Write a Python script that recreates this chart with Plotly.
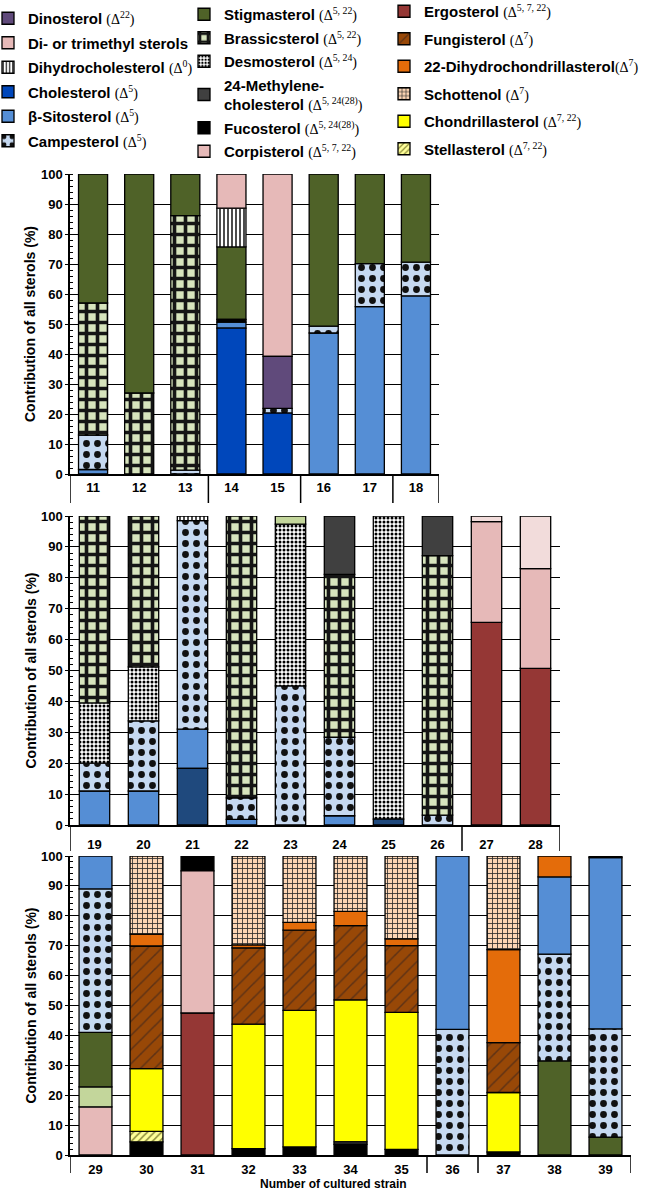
import plotly.graph_objects as go

# strains shown in each panel, the separated groups on the x axis (number of strains),
# and the stacked sterol shares of every strain, listed bottom -> top (% of all sterols)
strains_a = ["11", "12", "13", "14", "15", "16", "17", "18"]
groups_a = [3, 2, 2, 1]
stacks_a = [
    [("sito", 1.5), ("camp", 11.5), ("bras", 44), ("stig", 43)],
    [("bras", 27), ("stig", 73)],
    [("camp", 1.3), ("bras", 84.8), ("stig", 13.9)],
    [("chol", 48.6), ("sito", 2), ("fuco", 0.9), ("stig", 24.2), ("dihy", 12.9), ("ditri", 11.4)],
    [("chol", 20.3), ("camp", 1.6), ("dino", 17.3), ("ditri", 60.8)],
    [("sito", 47), ("camp", 2.3), ("stig", 50.7)],
    [("sito", 55.8), ("camp", 14.3), ("stig", 29.9)],
    [("sito", 59.4), ("camp", 11.2), ("stig", 29.4)],
]

strains_b = ["19", "20", "21", "22", "23", "24", "25", "26", "27", "28"]
groups_b = [8, 2]
stacks_b = [
    [("sito", 11), ("camp", 9), ("desm", 19.5), ("bras", 60.5)],
    [("sito", 11), ("camp", 22.7), ("desm", 17.5), ("bras", 48.8)],
    [("chol_dark", 18.3), ("sito", 12.7), ("camp", 67.5), ("dihy", 1.5)],
    [("sito", 1.8), ("camp", 7), ("bras", 91.2)],
    [("camp", 45), ("desm", 52.4), ("bras_plain", 2.6)],
    [("sito", 3), ("camp", 25.4), ("bras", 52.7), ("meth", 18.9)],
    [("chol_dark", 1.9), ("desm", 98.1)],
    [("camp", 3.2), ("bras", 84), ("meth", 12.8)],
    [("ergo", 65.6), ("corp", 32.6), ("ditri_light", 1.8)],
    [("ergo", 50.7), ("corp", 32.3), ("ditri_light", 17)],
]

strains_c = ["29", "30", "31", "32", "33", "34", "35", "36", "37", "38", "39"]
groups_c = [7, 1, 3]
stacks_c = [
    [("ditri", 16.1), ("bras_plain", 6.7), ("stig", 18.2), ("camp", 48), ("sito", 11)],
    [("fuco", 4.4), ("stel", 3.5), ("chon", 21), ("fung", 41), ("dhc", 4), ("scho", 26.1)],
    [("ergo", 47.5), ("corp", 47.5), ("fuco", 5)],
    [("fuco", 2.1), ("chon", 41.7), ("fung", 25.5), ("dhc", 1), ("scho", 29.7)],
    [("fuco", 2.7), ("chon", 45.7), ("fung", 26.8), ("dhc", 2.6), ("scho", 22.2)],
    [("fuco", 3.6), ("meth", 0.8), ("chon", 47.5), ("fung", 24.8), ("dhc", 4.8), ("scho", 18.5)],
    [("fuco", 1.9), ("chon", 45.8), ("fung", 22.3), ("dhc", 2.3), ("scho", 27.7)],
    [("camp", 42), ("sito", 58)],
    [("fuco", 1), ("chon", 19.9), ("fung", 16.7), ("dhc", 31.1), ("scho", 31.3)],
    [("stig", 31.5), ("camp", 35.7), ("sito", 25.8), ("dhc", 7)],
    [("stig", 6), ("camp", 36.2), ("sito", 57.3), ("dhc", 0.5)],
]

# legend texts (name, delta superscript)
names = {
    "dino": ("Dinosterol", "22"), "ditri": ("Di- or trimethyl sterols", None),
    "dihy": ("Dihydrocholesterol", "0"), "chol": ("Cholesterol", "5"),
    "sito": ("β-Sitosterol", "5"), "camp": ("Campesterol", "5"),
    "stig": ("Stigmasterol", "5, 22"), "bras": ("Brassicsterol", "5, 22"),
    "desm": ("Desmosterol", "5, 24"), "meth": ("24-Methylene-|cholesterol", "5, 24(28)"),
    "fuco": ("Fucosterol", "5, 24(28)"), "corp": ("Corpisterol", "5, 7, 22"),
    "ergo": ("Ergosterol", "5, 7, 22"), "fung": ("Fungisterol", "7"),
    "dhc": ("22-Dihydrochondrillasterol", "7"), "scho": ("Schottenol", "7"),
    "chon": ("Chondrillasterol", "7, 22"), "stel": ("Stellasterol", "7, 22"),
}
legend_cols = [
    ["dino", "ditri", "dihy", "chol", "sito", "camp"],
    ["stig", "bras", "desm", "meth", "fuco", "corp"],
    ["ergo", "fung", "dhc", "scho", "chon", "stel"],
]

# fill styles
STYLE = {
    "dino": dict(color="#604a7b"),
    "ditri": dict(color="#e6b9b8"),
    "ditri_light": dict(color="#f2dcdb", parent="ditri"),
    "dihy": dict(color="white", shape="|", fg="black", size=4, sol=0.35),
    "chol": dict(color="#0047bb"),
    "chol_dark": dict(color="#1f497d", parent="chol"),
    "sito": dict(color="#558ed5"),
    "camp": dict(color="#c6d9f1", shape=".", fg="#111111", size=11, sol=0.3),
    "stig": dict(color="#4f6228"),
    "bras": dict(color="#d7e4bd", shape="+", fg="#151515", size=11, sol=0.55),
    "bras_plain": dict(color="#c3d69b", parent="bras"),
    "desm": dict(color="white", shape=".", fg="black", size=4, sol=0.45),
    "meth": dict(color="#404040"),
    "fuco": dict(color="#000000"),
    "corp": dict(color="#e6b9b8"),
    "ergo": dict(color="#953735"),
    "fung": dict(color="#984807", shape="/", fg="#5e3215", size=10, sol=0.15),
    "dhc": dict(color="#e46c0a"),
    "scho": dict(color="#fcd5b4", shape="+", fg="#2b2b2b", size=5, sol=0.3),
    "chon": dict(color="#ffff00"),
    "stel": dict(color="#ffff99", shape="/", fg="#8c8c3a", size=5, sol=0.3),
}

FONT = "Liberation Sans, Arial, sans-serif"
W, H = 647, 1191


def legend_name(key):
    label, delta = names[key]
    parts = label.split("|")
    txt = "<br>".join("<b>%s</b>" % p for p in parts)
    if delta:
        gap = "" if key == "dhc" else " "
        txt += (gap + "<span style='font-family:Liberation Serif;font-size:14px'>"
                "(Δ<sup>%s</sup>)</span>" % delta)
    return txt


legend_of = {}
for c, col in enumerate(legend_cols):
    for r, k in enumerate(col):
        legend_of[k] = ("legend" if c == 0 else "legend%d" % (c + 1), r)

panels = [
    dict(strains=strains_a, groups=groups_a, stacks=stacks_a, x0=70, x1=439, top=174, bot=474,
         width=0.63, depth=29, standoff=1),
    dict(strains=strains_b, groups=groups_b, stacks=stacks_b, x0=70, x1=560, top=516, bot=825,
         width=0.62, depth=26, standoff=7),
    dict(strains=strains_c, groups=groups_c, stacks=stacks_c, x0=70, x1=631, top=856, bot=1155,
         width=0.645, depth=18, standoff=2),
]

fig = go.Figure()
shown = set()
layout_axes = {}
shapes = []
annotations = []

for p, pan in enumerate(panels):
    sfx = "" if p == 0 else str(p + 1)
    keys = []
    for stack in pan["stacks"]:
        for k, v in stack:
            if k not in keys:
                keys.append(k)
    for k in keys:
        heights, bases = [], []
        for stack in pan["stacks"]:
            b, h, base = 0, None, None
            for kk, v in stack:
                if kk == k:
                    h, base = v, b
                b += v
            heights.append(h)
            bases.append(base)
        st = STYLE[k]
        parent = st.get("parent", k)
        show = (parent == k) and (k not in shown)
        shown.add(k)
        pattern = dict(shape="")
        if "shape" in st:
            pattern = dict(shape=st["shape"], fgcolor=st["fg"], bgcolor=st["color"],
                           size=st["size"], solidity=st["sol"], fillmode="replace")
        leg, rank = legend_of[parent]
        fig.add_trace(go.Bar(
            x=pan["strains"], y=heights, base=bases,
            xaxis="x" + sfx, yaxis="y" + sfx,
            width=pan["width"],
            marker=dict(color=st["color"], pattern=pattern,
                        line=dict(color="black", width=1.3)),
            name=legend_name(parent), legendgroup=parent, showlegend=show,
            legend=leg, legendrank=rank,
            cliponaxis=False, hoverinfo="x+y+name",
        ))

    n = len(pan["strains"])
    layout_axes["xaxis" + sfx] = dict(
        domain=[pan["x0"] / W, pan["x1"] / W], anchor="y" + sfx,
        type="category", range=[-0.5, n - 0.5], showgrid=False,
        showline=True, linecolor="black", linewidth=1.5, ticks="",
        tickfont=dict(family=FONT, size=13, color="black", weight="bold"),
        ticklabelstandoff=pan["standoff"], fixedrange=True,
    )
    layout_axes["yaxis" + sfx] = dict(
        domain=[1 - pan["bot"] / H, 1 - pan["top"] / H], anchor="x" + sfx,
        range=[0, 100], dtick=10, showgrid=True, gridcolor="black", gridwidth=1.3,
        zeroline=False, showline=True, linecolor="black", linewidth=1.5,
        ticks="outside", ticklen=3, tickcolor="black",
        minor=dict(dtick=2, ticks="inside", ticklen=3, tickcolor="black", showgrid=False),
        tickfont=dict(family=FONT, size=13, color="black", weight="bold"),
        fixedrange=True,
    )

    # separators below the axis between strain groups
    pos = -0.5
    bounds = [pos]
    for g in pan["groups"]:
        pos += g
        bounds.append(pos)
    depth = pan["depth"] / (pan["bot"] - pan["top"])
    for bx in bounds:
        shapes.append(dict(type="line", xref="x" + sfx, yref="y" + sfx + " domain",
                           x0=bx, x1=bx, y0=0, y1=-depth,
                           line=dict(color="black", width=1.5)))

    annotations.append(dict(
        text="<b>Contribution of all sterols (%)</b>", textangle=-90,
        xref="paper", yref="paper", x=30 / W,
        y=1 - (pan["top"] + pan["bot"]) / 2 / H,
        showarrow=False, xanchor="center", yanchor="middle",
        font=dict(family=FONT, size=14, color="black"),
    ))

annotations.append(dict(
    text="<b>Number of cultured strain</b>", xref="paper", yref="paper",
    x=333 / W, y=1 - 1184 / H, showarrow=False, xanchor="center", yanchor="middle",
    font=dict(family=FONT, size=12, color="black"),
))

legend_style = dict(
    yanchor="top", xanchor="left", bgcolor="rgba(0,0,0,0)",
    font=dict(family=FONT, size=15, color="black"),
    traceorder="grouped", valign="middle", itemclick=False, itemdoubleclick=False,
)

fig.update_layout(
    width=W, height=H,
    margin=dict(l=0, r=0, t=0, b=0, autoexpand=False),
    paper_bgcolor="white", plot_bgcolor="white",
    barmode="overlay", showlegend=True,
    shapes=shapes, annotations=annotations,
    legend=dict(x=-12 / W, y=1 - 2 / H, tracegroupgap=2, **legend_style),
    legend2=dict(x=184 / W, y=1 + 2 / H, tracegroupgap=1, **legend_style),
    legend3=dict(x=384 / W, y=1 + 5 / H, tracegroupgap=5, **legend_style),
    **layout_axes,
)

fig.write_html("out.html", config={"displayModeBar": False},
               post_script="document.body.style.margin = '0';")
